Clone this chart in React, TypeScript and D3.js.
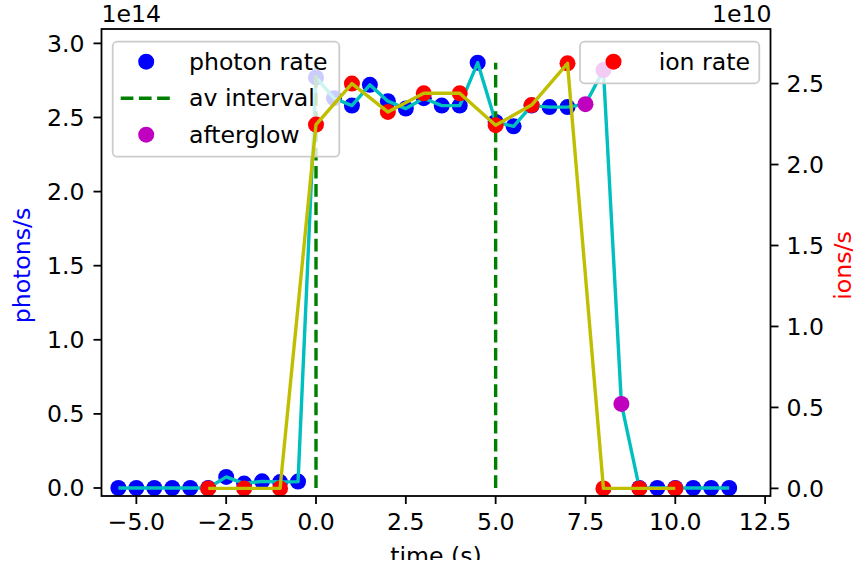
import React from "react";
import * as d3 from "d3";

// ---------- data ----------
const photonTime = [-5.5, -5.0, -4.5, -4.0, -3.5, -3.0, -2.5, -2.0, -1.5, -1.0, -0.5, 0.0, 0.5, 1.0, 1.5, 2.0, 2.5, 3.0, 3.5, 4.0, 4.5, 5.0, 5.5, 6.0, 6.5, 7.0, 9.0, 9.5, 10.0, 10.5, 11.0, 11.5];
const photonRate = [0, 0, 0, 0, 0, 0, 0.075, 0.03, 0.045, 0.04, 0.043, 2.77, 2.63, 2.58, 2.72, 2.61, 2.56, 2.63, 2.58, 2.58, 2.87, 2.47, 2.44, 2.58, 2.57, 2.57, 0, 0, 0, 0, 0, 0];
const afterglowTime = [7.5, 8.0, 8.5];
const afterglowRate = [2.59, 2.82, 0.567];
const ionTime = [-3, -2, -1, 0, 1, 2, 3, 4, 5, 6, 7, 8, 9, 10];
const ionRate = [0, 0, 0, 2.247, 2.5, 2.325, 2.44, 2.44, 2.243, 2.367, 2.625, 0, 0, 0];
const avInterval = [0, 5];
const xTicks = [-5, -2.5, 0, 2.5, 5, 7.5, 10, 12.5];
const yLeftTicks = [0, 0.5, 1, 1.5, 2, 2.5, 3];
const yRightTicks = [0, 0.5, 1, 1.5, 2, 2.5];
const legendLeftLabels = ["photon rate", "av interval", "afterglow"];
const legendRightLabels = ["ion rate"];

// ---------- layout ----------
const W = 857, H = 569;
const L = 101.5, R = 770.5, T = 29, B = 496;
const FONT = "'DejaVu Sans', sans-serif";
const FS = 23.6;
const C = { blue: "#0000ff", cyan: "#00bfbf", yellow: "#bfbf00", red: "#ff0000", magenta: "#bf00bf", green: "#008000" };

export default function App() {
  const x = d3.scaleLinear().domain([-5.97, 12.65]).range([L, R]);
  const yL = d3.scaleLinear().domain([-0.054, 3.097]).range([B, T]);
  const yR = d3.scaleLinear().domain([-0.047, 2.837]).range([B, T]);
  const fmt = d3.format(".1f");

  const photonLine = photonTime
    .map((t, i) => [t, photonRate[i]] as [number, number])
    .concat(afterglowTime.map((t, i) => [t, afterglowRate[i]] as [number, number]))
    .sort((a, b) => a[0] - b[0]);
  const lineL = d3.line<[number, number]>().x(d => x(d[0])).y(d => yL(d[1]));
  const lineR = d3.line<[number, number]>().x(d => x(d[0])).y(d => yR(d[1]));
  const ionLine = ionTime.map((t, i) => [t, ionRate[i]] as [number, number]);
  const vmax = d3.max(photonLine, d => d[1]) as number;

  const r = 8;
  const lw = 3.4;

  return (
    <div style={{ position: "fixed", left: 0, top: 0, width: W, height: H, background: "#fff" }}>
      <svg width={W} height={H} style={{ display: "block" }} fontFamily={FONT}>
        <defs>
          <clipPath id="ax"><rect x={L} y={T} width={R - L} height={B - T} /></clipPath>
        </defs>
        <rect x={0} y={0} width={W} height={H} fill="#fff" />
        {/* ax1 content */}
        <g clipPath="url(#ax)">
          {photonTime.map((t, i) => (
            <circle key={"b" + i} cx={x(t)} cy={yL(photonRate[i])} r={r} fill={C.blue} />
          ))}
          <path d={lineL(photonLine) || ""} fill="none" stroke={C.cyan} strokeWidth={lw} strokeLinejoin="round" />
          {afterglowTime.map((t, i) => (
            <circle key={"m" + i} cx={x(t)} cy={yL(afterglowRate[i])} r={r} fill={C.magenta} />
          ))}
          {avInterval.map((t, i) => (
            <line key={"v" + i} x1={x(t)} x2={x(t)} y1={yL(0)} y2={yL(vmax)} stroke={C.green} strokeWidth={lw} strokeDasharray="12.7 5.5" />
          ))}
        </g>
        {/* ax1 legend */}
        <g>
          <rect x={112.7} y={41.7} width={226.6} height={115} rx={4.5} fill="#fff" fillOpacity={0.8} stroke="#cccccc" strokeWidth={1.8} />
          {legendLeftLabels.map((lab, i) => {
            const cy = 61.7 + i * 36.5;
            return (
              <g key={lab}>
                {i === 0 && <circle cx={146.2} cy={cy} r={r} fill={C.blue} />}
                {i === 1 && <line x1={120.7} x2={170.7} y1={cy} y2={cy} stroke={C.green} strokeWidth={lw} strokeDasharray="12.7 5.5" />}
                {i === 2 && <circle cx={146.2} cy={cy} r={r} fill={C.magenta} />}
                <text x={189} y={cy + 8} fontSize={FS} fill="#000">{lab}</text>
              </g>
            );
          })}
        </g>
        {/* ax2 content */}
        <g clipPath="url(#ax)">
          {ionTime.map((t, i) => (
            <circle key={"r" + i} cx={x(t)} cy={yR(ionRate[i])} r={r} fill={C.red} />
          ))}
          <path d={lineR(ionLine) || ""} fill="none" stroke={C.yellow} strokeWidth={lw} strokeLinejoin="round" />
        </g>
        {/* ax2 legend */}
        <g>
          <rect x={580} y={41.7} width={179.3} height={41.6} rx={4.5} fill="#fff" fillOpacity={0.8} stroke="#cccccc" strokeWidth={1.8} />
          {legendRightLabels.map((lab, i) => (
            <g key={lab}>
              <circle cx={613.5} cy={61.7} r={r} fill={C.red} />
              <text x={750} y={61.7 + 8} fontSize={FS} fill="#000" textAnchor="end">{lab}</text>
            </g>
          ))}
        </g>
        {/* spines */}
        <rect x={L} y={T} width={R - L} height={B - T} fill="none" stroke="#000" strokeWidth={1.8} />
        {/* x ticks */}
        {xTicks.map(t => (
          <g key={"xt" + t}>
            <line x1={x(t)} x2={x(t)} y1={B} y2={B + 8} stroke="#000" strokeWidth={1.8} />
            <text x={x(t)} y={530} fontSize={FS} textAnchor="middle" fill="#000">{fmt(t)}</text>
          </g>
        ))}
        {/* left y ticks */}
        {yLeftTicks.map(t => (
          <g key={"yl" + t}>
            <line x1={L - 8} x2={L} y1={yL(t)} y2={yL(t)} stroke="#000" strokeWidth={1.8} />
            <text x={L - 17} y={yL(t)} dy="0.36em" fontSize={FS} textAnchor="end" fill="#000">{fmt(t)}</text>
          </g>
        ))}
        {/* right y ticks */}
        {yRightTicks.map(t => (
          <g key={"yr" + t}>
            <line x1={R} x2={R + 8} y1={yR(t)} y2={yR(t)} stroke="#000" strokeWidth={1.8} />
            <text x={R + 16} y={yR(t)} dy="0.36em" fontSize={FS} textAnchor="start" fill="#000">{fmt(t)}</text>
          </g>
        ))}
        {/* offset texts */}
        <text x={L} y={21.5} fontSize={FS} fill="#000">1e14</text>
        <text x={R + 1} y={21.5} fontSize={FS} fill="#000" textAnchor="end">1e10</text>
        {/* axis labels */}
        <text transform={`translate(30, ${(T + B) / 2 + 3}) rotate(-90)`} fontSize={FS} textAnchor="middle" fill={C.blue}>photons/s</text>
        <text transform={`translate(850.5, ${(T + B) / 2 + 3}) rotate(-90)`} fontSize={FS} textAnchor="middle" fill={C.red}>ions/s</text>
        <text x={(L + R) / 2} y={564} fontSize={FS} textAnchor="middle" fill="#000">time (s)</text>
        <rect x={0} y={560} width={W} height={H - 560} fill="#fff" />
      </svg>
    </div>
  );
}
